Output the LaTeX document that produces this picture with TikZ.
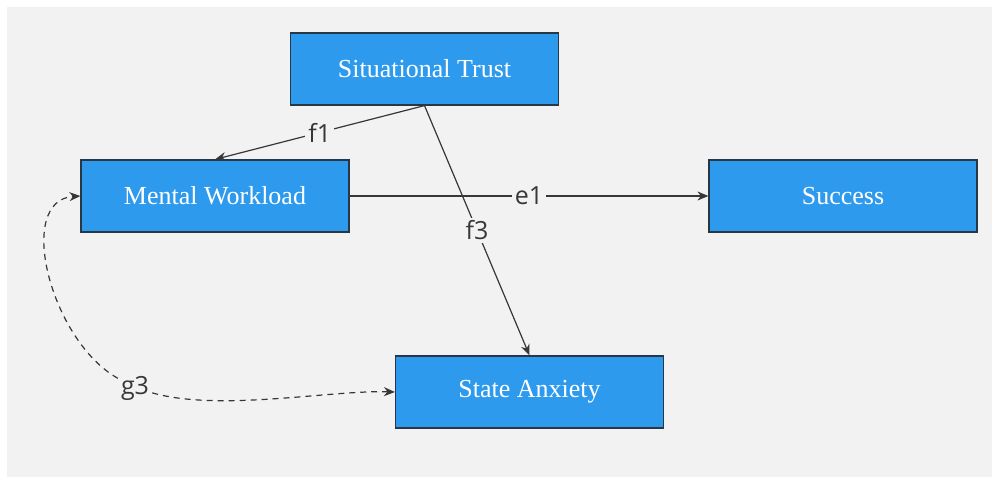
\documentclass[tikz,border=0pt]{standalone}
\usepackage{fontspec}
\setmainfont{Liberation Serif}
\newfontfamily\labelfont{Open Sans}
\usepackage{xcolor}
\usetikzlibrary{arrows.meta}

\definecolor{boxblue}{RGB}{45,154,238}
\definecolor{boxedge}{RGB}{40,55,70}
\definecolor{paper}{RGB}{242,242,242}
\definecolor{linkgray}{RGB}{55,55,55}

\begin{document}
\begin{tikzpicture}[x=1pt, y=-1pt,
    box/.style={draw=boxedge, line width=1.2pt, fill=boxblue, text=white,
      minimum width=268pt, minimum height=72pt, font=\fontsize{26}{30}\selectfont},
    link/.style={draw=linkgray, line width=1.2pt, -{Stealth[length=11pt,width=9pt]}},
    tag/.style={fill=paper, text=linkgray, inner sep=3pt, font=\labelfont\fontsize{25}{28}\selectfont}]

        % Page and grey background
        \useasboundingbox (0,0) rectangle (992,478);
        \fill[paper] (7,7) rectangle (992,477);

        % Variables
        \node[box] (trust) at (424.5,69) {Situational Trust};
        \node[box] (workload) at (215,196) {Mental Workload};
        \node[box] (success) at (843,196) {Success};
        \node[box] (anxiety) at (529.5,392) {State Anxiety};

        % Direct paths
        \draw[link] (trust.south) -- (workload.north) node[midway, tag] {f1};
        \draw[link] (trust.south) -- (anxiety.north) node[midway, tag] {f3};
        \draw[link] (workload.east) -- (success.west) node[midway, tag] {e1};

        % Covariance (dashed, both ways)
        \node[tag, fill=none] (cov) at (135,388) {g3};
        \draw[link, dash pattern=on 6pt off 5pt] (cov) .. controls (50,340) and (15,200) .. (workload.west);
        \draw[link, dash pattern=on 6pt off 5pt] (cov) .. controls (220,412) and (330,390) .. (anxiety.west);

\end{tikzpicture}
\end{document}
